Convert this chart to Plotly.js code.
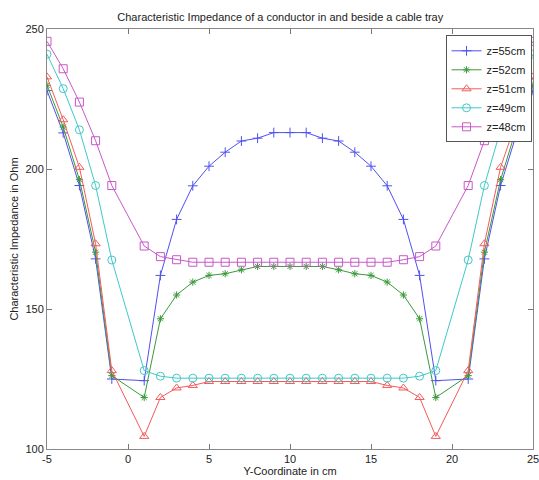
<!DOCTYPE html>
<html>
<head>
<meta charset="utf-8">
<script src="https://cdn.plot.ly/plotly-3.0.1.min.js"></script>
<style>html,body{margin:0;padding:0;background:#fff;overflow:hidden;}</style>
</head>
<body>
<div id="chart" style="width:539px;height:480px;"></div>
<script>
const xCoord = [-5,-4,-3,-2,-1,1,2,3,4,5,6,7,8,9,10,11,12,13,14,15,16,17,18,19,21,22,23,24,25];
const z55 = [228,212.9,194.1,167.9,125,124.4,162,182,194,201,206,210,211,213,213,213,211,210,206,201,194,182,162,124.4,125,167.9,194.1,212.9,228];
const z52 = [229.9,215,196.2,170.3,126.2,118.4,146.5,155,159.6,162,162.6,164,165.2,165.2,165.2,165.2,165.2,164,162.6,162,159.6,155,146.5,118.4,126.2,170.3,196.2,215,229.9];
const z51 = [232.9,217.6,200.6,173.3,128,104.5,118.4,121.8,122.7,124.1,124.1,124.1,124.1,124.1,124.1,124.1,124.1,124.1,124.1,124.1,122.7,121.8,118.4,104.5,128,173.3,200.6,217.6,232.9];
const z49 = [241,228.7,214,194.1,167.5,128,126,125.3,125.3,125.3,125.3,125.3,125.3,125.3,125.3,125.3,125.3,125.3,125.3,125.3,125.3,125.3,126,128,167.5,194.1,214,228.7,241];
const z48 = [245.6,235.8,223.9,210.1,194.1,172.5,168.7,167.6,166.7,166.7,166.7,166.7,166.7,166.7,166.7,166.7,166.7,166.7,166.7,166.7,166.7,167.6,168.7,172.5,194.1,210.1,223.9,235.8,245.6];
const seriesNames = ['z=55cm','z=52cm','z=51cm','z=49cm','z=48cm'];
const xTicks = [-5,0,5,10,15,20,25];
const yTicks = [100,150,200,250];

const styles = [
  {color:'#5050f0', symbol:'cross-thin-open', size:7},
  {color:'#3a9a3a', symbol:'asterisk-open', size:6},
  {color:'#f55a5a', symbol:'triangle-up-open', size:8},
  {color:'#40c8c8', symbol:'circle-open', size:8},
  {color:'#c858c8', symbol:'square-open', size:8}
];
const ys = [z55,z52,z51,z49,z48];
const traces = ys.map((y,i)=>({
  x: xCoord, y: y, name: seriesNames[i], type:'scatter', mode:'lines+markers',
  line:{color:styles[i].color, width:1},
  marker:{symbol:styles[i].symbol, size:styles[i].size, color:styles[i].color, line:{color:styles[i].color, width:1}}
}));

const fontFam = 'Liberation Sans, Arial, Helvetica, sans-serif';
const layout = {
  width:539, height:480,
  margin:{l:47, r:6, t:29, b:31},
  paper_bgcolor:'#fff', plot_bgcolor:'#fff',
  font:{family:fontFam, size:11, color:'#222'},
  title:{text:'Characteristic Impedance of a conductor in and beside a cable tray', font:{size:11, color:'#222'}, xref:'container', x:0.52, xanchor:'center', yref:'container', y:0.965, yanchor:'middle'},
  xaxis:{range:[-5,25], tickvals:xTicks, ticktext:xTicks.map(String), ticks:'inside', ticklen:5, tickcolor:'#777', showline:true, linecolor:'#888', linewidth:1, mirror:'ticks', showgrid:false, zeroline:false, ticklabeloverflow:'allow',
    title:{text:'Y-Coordinate in cm', font:{size:11}, standoff:0}, tickfont:{size:11}},
  yaxis:{range:[100,250], tickvals:yTicks, ticktext:yTicks.map(String), ticks:'inside', ticklen:5, tickcolor:'#777', showline:true, linecolor:'#888', linewidth:1, mirror:'ticks', showgrid:false, zeroline:false, ticklabeloverflow:'allow',
    title:{text:'Characteristic Impedance in Ohm', font:{size:11}, standoff:4}, tickfont:{size:11}},
  legend:{x:0.997, xanchor:'right', y:0.985, yanchor:'top', bgcolor:'#fff', bordercolor:'#555', borderwidth:1, font:{size:11}, tracegroupgap:0, itemwidth:30},
  showlegend:true
};
Plotly.newPlot('chart', traces, layout, {displayModeBar:false, staticPlot:true});
</script>
</body>
</html>
